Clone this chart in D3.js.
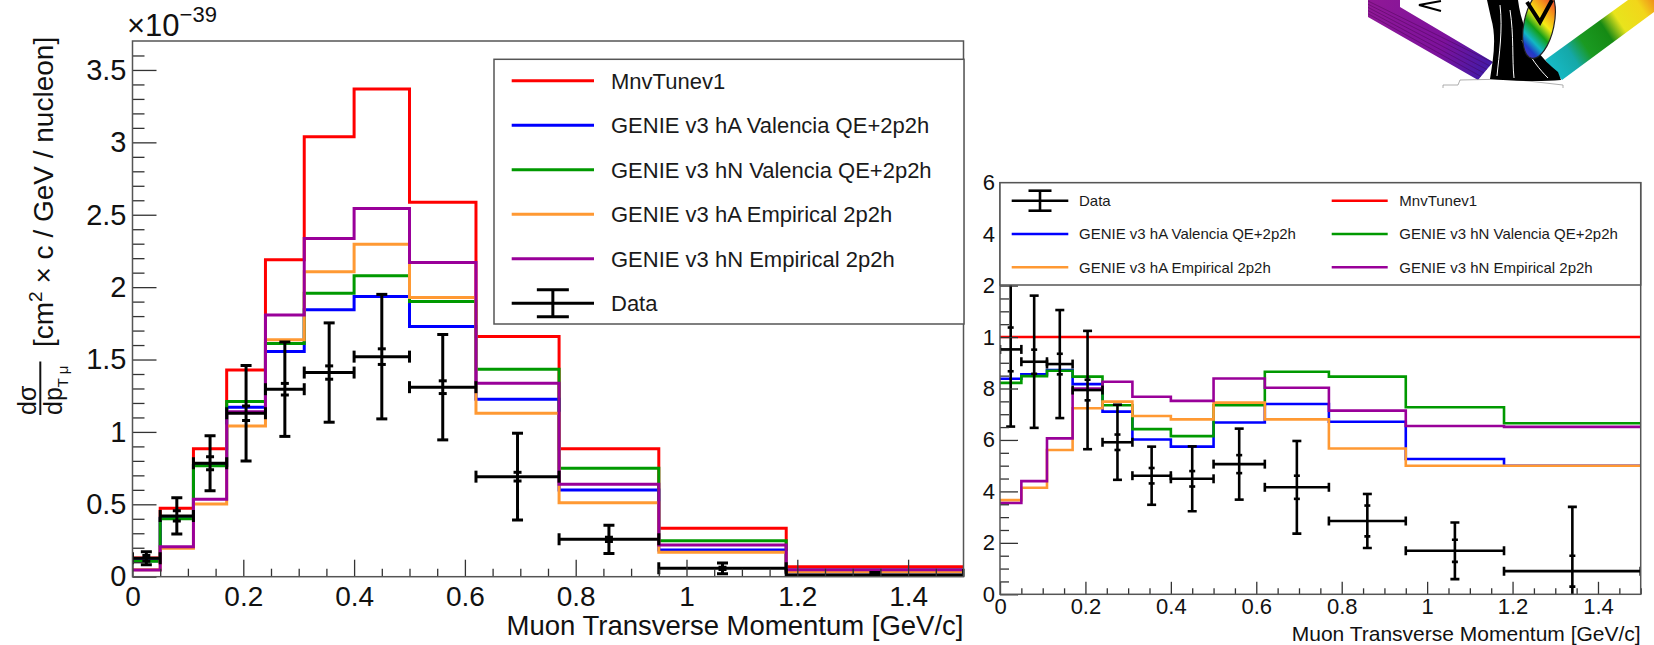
<!DOCTYPE html>
<html>
<head>
<meta charset="utf-8">
<script src="https://cdn.jsdelivr.net/npm/d3@7"></script>
<style>
  body { margin: 0; background: #fff; }
  svg { display: block; }
</style>
</head>
<body>
<div id="chart"></div>
<script>
// Muon pT bin edges [GeV/c]
const binEdges = [0, 0.05, 0.11, 0.17, 0.24, 0.31, 0.40, 0.50, 0.62, 0.77, 0.95, 1.18, 1.5];

// Cross section per bin, in units of 1e-39 cm^2 c / GeV / nucleon
const dataXsec    = [0.127, 0.42, 0.784, 1.129, 1.295, 1.41, 1.52, 1.309, 0.691, 0.258, 0.058, 0.012];
const dataTotErr  = [0.045, 0.125, 0.19, 0.33, 0.326, 0.343, 0.43, 0.364, 0.30, 0.097, 0.037, 0.017];
const dataStatErr = [0.02, 0.035, 0.045, 0.05, 0.04, 0.046, 0.054, 0.044, 0.03, 0.015, 0.008, 0.004];
const mnvTune     = [0.13, 0.473, 0.883, 1.428, 2.189, 3.039, 3.368, 2.587, 1.659, 0.883, 0.334, 0.069];
const haValencia  = [0.11, 0.403, 0.77, 1.17, 1.555, 1.843, 1.935, 1.728, 1.226, 0.599, 0.185, 0.035];
const hnValencia  = [0.107, 0.40, 0.767, 1.21, 1.61, 1.958, 2.078, 1.90, 1.433, 0.749, 0.249, 0.046];
const haEmpirical = [0.048, 0.196, 0.502, 1.041, 1.636, 2.106, 2.297, 1.928, 1.129, 0.511, 0.169, 0.035];
const hnEmpirical = [0.046, 0.207, 0.535, 1.14, 1.808, 2.336, 2.543, 2.17, 1.336, 0.638, 0.219, 0.048];

// Ratio to MnvTunev1 (right panel)
const ratioData      = [0.952, 0.904, 0.895, 0.794, 0.591, 0.461, 0.449, 0.506, 0.416, 0.285, 0.169, 0.09];
const ratioTotErr    = [0.30, 0.257, 0.21, 0.23, 0.146, 0.113, 0.126, 0.138, 0.18, 0.105, 0.11, 0.25];
const ratioStatErr   = [0.085, 0.047, 0.04, 0.04, 0.03, 0.03, 0.03, 0.035, 0.045, 0.06, 0.043, 0.06];
const ratioMnvTune   = [1, 1, 1, 1, 1, 1, 1, 1, 1, 1, 1, 1];
const ratioHaValencia  = [0.838, 0.855, 0.872, 0.817, 0.71, 0.602, 0.574, 0.668, 0.74, 0.671, 0.526, 0.50];
const ratioHnValencia  = [0.822, 0.848, 0.869, 0.846, 0.735, 0.642, 0.615, 0.735, 0.865, 0.846, 0.727, 0.665];
const ratioHaEmpirical = [0.366, 0.414, 0.561, 0.723, 0.749, 0.693, 0.68, 0.745, 0.68, 0.567, 0.50, 0.50];
const ratioHnEmpirical = [0.355, 0.44, 0.606, 0.80, 0.826, 0.768, 0.752, 0.839, 0.803, 0.714, 0.654, 0.651];

const modelNames  = ['MnvTunev1', 'GENIE v3 hA Valencia QE+2p2h', 'GENIE v3 hN Valencia QE+2p2h',
                     'GENIE v3 hA Empirical 2p2h', 'GENIE v3 hN Empirical 2p2h'];
const modelColors = ['#ff0000', '#0000ff', '#009900', '#ff9933', '#990099'];

const FONT = "'Liberation Sans', Arial, Helvetica, sans-serif";
const INK = '#111';
const FRAME = '#555';

const svg = d3.select('#chart').append('svg')
    .attr('width', 1654)
    .attr('height', 645)
    .attr('font-family', FONT);
const defs = svg.append('defs');

// histogram as step points (left edge of each bin, closing point at last edge)
function stepPoints(vals) {
    const pts = vals.map((v, i) => [binEdges[i], v]);
    pts.push([binEdges[binEdges.length - 1], vals[vals.length - 1]]);
    return pts;
}

function drawPanel(p) {
    const g = svg.append('g');
    const [xl, xr] = p.x.range();
    const [yb, yt] = p.y.range();

    defs.append('clipPath').attr('id', p.id)
        .append('rect')
        .attr('x', xl).attr('y', yt)
        .attr('width', xr - xl).attr('height', yb - yt);

    const plot = g.append('g').attr('clip-path', `url(#${p.id})`);

    const line = d3.line()
        .x(d => p.x(d[0]))
        .y(d => p.y(d[1]))
        .curve(d3.curveStepAfter);

    p.models.forEach((vals, k) => {
        plot.append('path')
            .attr('d', line(stepPoints(vals)))
            .attr('fill', 'none')
            .attr('stroke', modelColors[k])
            .attr('stroke-width', p.lw);
    });

    // data points with horizontal bin bars, total and stat errors
    const pts = p.data.map((v, i) => ({
        lo: binEdges[i], hi: binEdges[i + 1],
        mid: (binEdges[i] + binEdges[i + 1]) / 2,
        v, tot: p.tot[i], stat: p.stat[i]
    }));
    const dg = plot.append('g')
        .attr('stroke', '#000')
        .attr('stroke-width', p.dlw)
        .attr('fill', 'none');
    pts.forEach(d => {
        const cx = p.x(d.mid), cy = p.y(d.v);
        const seg = (x1, y1, x2, y2) => dg.append('line')
            .attr('x1', x1).attr('y1', y1).attr('x2', x2).attr('y2', y2);
        seg(p.x(d.lo), cy, p.x(d.hi), cy);
        seg(p.x(d.lo), cy - p.capH, p.x(d.lo), cy + p.capH);
        seg(p.x(d.hi), cy - p.capH, p.x(d.hi), cy + p.capH);
        seg(cx, p.y(d.v - d.tot), cx, p.y(d.v + d.tot));
        seg(cx - p.capW, p.y(d.v + d.tot), cx + p.capW, p.y(d.v + d.tot));
        seg(cx - p.capW, p.y(d.v - d.tot), cx + p.capW, p.y(d.v - d.tot));
        seg(cx - p.statW, p.y(d.v + d.stat), cx + p.statW, p.y(d.v + d.stat));
        seg(cx - p.statW, p.y(d.v - d.stat), cx + p.statW, p.y(d.v - d.stat));
    });

    // axes: ticks point inwards
    const styleAxis = (a, fs) => {
        a.select('.domain').remove();
        a.selectAll('line').attr('stroke', '#333').attr('stroke-width', 1.3);
        a.selectAll('text').attr('font-family', FONT).attr('font-size', fs).attr('fill', INK);
    };
    const yAx = g.append('g').attr('transform', `translate(${xl},0)`)
        .call(d3.axisLeft(p.y).tickValues(p.yMajor).tickSize(-p.yMajLen)
            .tickPadding(p.yPad).tickFormat(p.yFmt));
    styleAxis(yAx, p.fsY);
    const yMin = g.append('g').attr('transform', `translate(${xl},0)`)
        .call(d3.axisLeft(p.y).tickValues(p.yMinor).tickSize(-p.yMinLen).tickFormat(''));
    styleAxis(yMin, p.fsY);

    const xAx = g.append('g').attr('transform', `translate(0,${yb})`)
        .call(d3.axisBottom(p.x).tickValues(p.xMajor).tickSize(-p.xMajLen)
            .tickPadding(p.xPad).tickFormat(d3.format('~g')));
    styleAxis(xAx, p.fsX);
    const xMin = g.append('g').attr('transform', `translate(0,${yb})`)
        .call(d3.axisBottom(p.x).tickValues(p.xMinor).tickSize(-p.xMinLen).tickFormat(''));
    styleAxis(xMin, p.fsX);

    g.append('rect')
        .attr('x', xl).attr('y', yt)
        .attr('width', xr - xl).attr('height', yb - yt)
        .attr('fill', 'none')
        .attr('stroke', FRAME)
        .attr('stroke-width', 1.5);

    g.append('text')
        .attr('x', xr).attr('y', p.titleY)
        .attr('text-anchor', 'end')
        .attr('font-size', p.fsTitle)
        .attr('fill', INK)
        .text('Muon Transverse Momentum [GeV/c]');
    return g;
}

function drawLegend(box, entries, fs) {
    const g = svg.append('g');
    g.append('rect')
        .attr('x', box.x).attr('y', box.y)
        .attr('width', box.w).attr('height', box.h)
        .attr('fill', '#fff')
        .attr('stroke', FRAME)
        .attr('stroke-width', 1.5);
    entries.forEach(e => {
        if (e.data) {
            const cx = (e.x1 + e.x2) / 2;
            const dg = g.append('g').attr('stroke', '#000').attr('stroke-width', e.lw);
            dg.append('line').attr('x1', e.x1).attr('x2', e.x2).attr('y1', e.y).attr('y2', e.y);
            dg.append('line').attr('x1', cx).attr('x2', cx).attr('y1', e.y - e.eh).attr('y2', e.y + e.eh);
            [-e.eh, e.eh].forEach(o => dg.append('line')
                .attr('x1', cx - e.cw).attr('x2', cx + e.cw).attr('y1', e.y + o).attr('y2', e.y + o));
        } else {
            g.append('line')
                .attr('x1', e.x1).attr('x2', e.x2).attr('y1', e.y).attr('y2', e.y)
                .attr('stroke', e.color).attr('stroke-width', e.lw);
        }
        g.append('text')
            .attr('x', e.tx).attr('y', e.y)
            .attr('dy', '0.36em')
            .attr('font-size', fs)
            .attr('fill', '#1a1a1a')
            .text(e.label);
    });
}

const range = (n, step) => d3.range(n).map(i => +(i * step).toFixed(3));
const minorsOf = (all, majors) => all.filter(v => !majors.some(m => Math.abs(m - v) < 1e-6));

// ---- left panel: absolute cross section ----
const xMain = d3.scaleLinear().domain([0, 1.5]).range([132.5, 963.5]);
const yMain = d3.scaleLinear().domain([0, 3.7]).range([576.7, 41]);
const mainYMajor = range(8, 0.5);
const mainXMajor = range(8, 0.2);

drawPanel({
    id: 'clipMain', x: xMain, y: yMain,
    models: [mnvTune, haValencia, hnValencia, haEmpirical, hnEmpirical],
    data: dataXsec, tot: dataTotErr, stat: dataStatErr,
    lw: 3, dlw: 3, capH: 6, capW: 5.5, statW: 4,
    yMajor: mainYMajor, yMinor: minorsOf(range(37, 0.1), mainYMajor),
    xMajor: mainXMajor, xMinor: minorsOf(range(31, 0.05), mainXMajor),
    yMajLen: 24, yMinLen: 12, xMajLen: 17, xMinLen: 8,
    yPad: 6, xPad: 9, fsY: 29, fsX: 28,
    yFmt: d3.format('~g'),
    titleY: 635, fsTitle: 27.5
});

// exponent label
svg.append('text')
    .attr('x', 127).attr('y', 36)
    .attr('font-size', 31).attr('fill', INK)
    .text('\u00d710')
    .append('tspan').attr('dy', -14).attr('font-size', 22).text('\u221239');

// y title: fraction plus units, rotated
const yTitle = svg.append('g').attr('transform', 'translate(53,348) rotate(-90)').attr('fill', INK);
yTitle.append('text')
    .attr('x', 1).attr('y', 0)
    .attr('font-size', 28)
    .call(t => {
        t.append('tspan').text('[cm');
        t.append('tspan').attr('dy', -11).attr('font-size', 19).text('2');
        t.append('tspan').attr('dy', 11).text(' \u00d7 c / GeV / nucleon]');
    });
yTitle.append('text')
    .attr('x', -67).attr('y', -17.5)
    .attr('font-size', 25)
    .text('d\u03c3');
yTitle.append('text')
    .attr('x', -67).attr('y', 8.5)
    .attr('font-size', 25)
    .call(t => {
        t.append('tspan').text('dp');
        t.append('tspan').attr('dy', 6).attr('font-size', 15).text('T \u03bc');
    });
yTitle.append('line')
    .attr('x1', -67).attr('x2', -13.5).attr('y1', -12.7).attr('y2', -12.7)
    .attr('stroke', INK).attr('stroke-width', 2);

drawLegend({ x: 494, y: 59.3, w: 470, h: 264.7 },
    modelNames.map((name, k) => ({
        label: name, color: modelColors[k], lw: 3,
        x1: 511.7, x2: 594, tx: 611, y: 80.7 + k * 44.5
    })).concat([{
        label: 'Data', data: true, lw: 3, eh: 13.5, cw: 16,
        x1: 511.7, x2: 594, tx: 611, y: 303.3
    }]), 22);

// ---- right panel: ratio to MnvTunev1 ----
const xRat = d3.scaleLinear().domain([0, 1.5]).range([1000, 1640.7]);
const yRat = d3.scaleLinear().domain([0, 1.6]).range([594.3, 182.7]);
const ratYMajor = range(9, 0.2);
const ratXMajor = range(8, 0.2);

drawPanel({
    id: 'clipRatio', x: xRat, y: yRat,
    models: [ratioMnvTune, ratioHaValencia, ratioHnValencia, ratioHaEmpirical, ratioHnEmpirical],
    data: ratioData, tot: ratioTotErr, stat: ratioStatErr,
    lw: 2.6, dlw: 2.6, capH: 4.5, capW: 4.5, statW: 3,
    yMajor: ratYMajor, yMinor: minorsOf(range(33, 0.05), ratYMajor),
    xMajor: ratXMajor, xMinor: minorsOf(range(31, 0.05), ratXMajor),
    yMajLen: 18, yMinLen: 9, xMajLen: 12.5, xMinLen: 6,
    yPad: 5, xPad: 4, fsY: 22, fsX: 22,
    // labels are cut on the left in the original; only the last digit shows
    yFmt: v => {
        const s = d3.format('.1f')(v);
        return s.endsWith('.0') ? s.slice(0, -2) : s.slice(-1);
    },
    titleY: 641, fsTitle: 21
});

const ratLegendOrder = [
    { label: 'Data', data: true },
    { k: 0 }, { k: 1 }, { k: 2 }, { k: 3 }, { k: 4 }
];
const ratCells = [[0, 0], [1, 0], [0, 1], [1, 1], [0, 2], [1, 2]];
drawLegend({ x: 1000, y: 182.7, w: 640.7, h: 102.3 },
    ratLegendOrder.map((e, i) => {
        const [col, row] = ratCells[i];
        const base = {
            x1: col ? 1331.7 : 1011.7, x2: col ? 1387.7 : 1068.3,
            tx: col ? 1399.3 : 1079, y: 200.7 + row * 33.3, lw: 2.6
        };
        return e.data
            ? Object.assign(base, { label: e.label, data: true, eh: 10, cw: 11.5 })
            : Object.assign(base, { label: modelNames[e.k], color: modelColors[e.k] });
    }), 15);

// ---- collaboration logo (decoration, top right) ----
function drawLogo() {
    const g = svg.append('g');
    const pg = defs.append('linearGradient').attr('id', 'bandPurple')
        .attr('gradientUnits', 'userSpaceOnUse')
        .attr('x1', 1368).attr('y1', 0).attr('x2', 1493).attr('y2', 70);
    pg.append('stop').attr('offset', '0').attr('stop-color', '#901896');
    pg.append('stop').attr('offset', '0.6').attr('stop-color', '#7d129c');
    pg.append('stop').attr('offset', '1').attr('stop-color', '#3e1ca8');
    g.append('path')
        .attr('d', 'M1368,0 L1400,0 L1400,7 L1493,62 L1478,80 L1368,17 Z')
        .attr('fill', 'url(#bandPurple)');
    d3.range(1, 6).forEach(i => {
        g.append('line')
            .attr('x1', 1368).attr('y1', 17 - i * 3.2)
            .attr('x2', 1478 + i * 3).attr('y2', 80 - i * 3.5)
            .attr('stroke', '#3a0040').attr('stroke-width', 0.6).attr('opacity', 0.6);
    });

    const rg = defs.append('linearGradient').attr('id', 'bandRainbow')
        .attr('gradientUnits', 'userSpaceOnUse')
        .attr('x1', 1548).attr('y1', 70).attr('x2', 1654).attr('y2', 0);
    [['0', '#17bccb'], ['0.22', '#15a8a8'], ['0.35', '#1a9a22'], ['0.55', '#168a14'],
     ['0.68', '#e8e41c'], ['0.88', '#f2d61a'], ['1', '#f0901a']].forEach(([o, c]) =>
        rg.append('stop').attr('offset', o).attr('stop-color', c));
    g.append('path')
        .attr('d', 'M1545,60 L1628,0 L1654,0 L1654,12 L1562,80 Z')
        .attr('fill', 'url(#bandRainbow)');

    // pedestal
    g.append('path')
        .attr('d', 'M1443,88 L1443,85 L1458,85 L1460,80 L1510,79 L1563,85 L1563,88')
        .attr('fill', 'none').attr('stroke', '#999').attr('stroke-width', 0.8);

    // cloaked figure
    g.append('path')
        .attr('d', 'M1487,0 L1518,0 C1521,25 1532,52 1558,72 L1561,80 C1540,82 1512,81 1490,79 C1493,60 1497,38 1491,18 Z')
        .attr('fill', '#000');
    ['M1500,5 C1503,30 1499,55 1497,76', 'M1510,10 C1514,35 1512,60 1514,78', 'M1522,40 C1530,58 1540,70 1548,78']
        .forEach(d => g.append('path').attr('d', d).attr('fill', 'none')
            .attr('stroke', '#fff').attr('stroke-width', 1));

    // shield
    const sg = defs.append('linearGradient').attr('id', 'shieldRainbow')
        .attr('gradientUnits', 'userSpaceOnUse')
        .attr('x1', 1520).attr('y1', 55).attr('x2', 1558).attr('y2', 0);
    [['0', '#6a2bb0'], ['0.18', '#1f3cc8'], ['0.3', '#12b8c4'], ['0.45', '#14a018'],
     ['0.6', '#f6ec14'], ['0.78', '#f59a1a'], ['1', '#ee3030']].forEach(([o, c]) =>
        sg.append('stop').attr('offset', o).attr('stop-color', c));
    g.append('ellipse')
        .attr('cx', 1539).attr('cy', 24).attr('rx', 15).attr('ry', 35)
        .attr('transform', 'rotate(12,1539,24)')
        .attr('fill', 'url(#shieldRainbow)')
        .attr('stroke', '#222').attr('stroke-width', 1.2);
    g.append('path')
        .attr('d', 'M1527,2 L1540,22 L1552,0')
        .attr('fill', 'none').attr('stroke', '#000').attr('stroke-width', 4);

    g.append('path')
        .attr('d', 'M1441,1 L1419,5 L1441,11')
        .attr('fill', 'none').attr('stroke', '#000').attr('stroke-width', 2);
}
drawLogo();
</script>
</body>
</html>
